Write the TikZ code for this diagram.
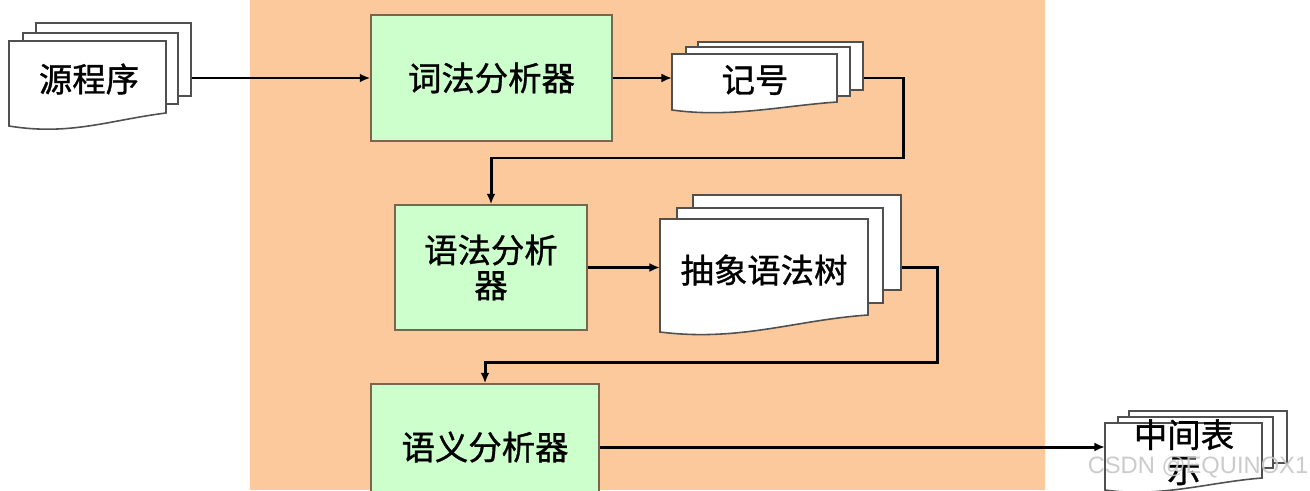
\documentclass[tikz,border=0pt]{standalone}
\usepackage{fontspec}
\newfontfamily\cjk{Noto Sans CJK SC}[FakeBold=1]
\newfontfamily\wmfont{Liberation Sans}
\usetikzlibrary{arrows.meta}
\definecolor{bgorange}{HTML}{FBC99B}
\definecolor{procgreen}{HTML}{CCFFCC}
\definecolor{boxbrd}{HTML}{7A6650}
\definecolor{docbrd}{HTML}{505050}
\tikzset{
  cjktext/.style={font=\cjk\fontsize{19}{20}\selectfont, align=center, inner sep=0pt},
  proc/.style={cjktext, draw=boxbrd, fill=procgreen, line width=0.8pt},
  page/.style={draw=docbrd, fill=white, line width=0.9pt, inner sep=0pt},
  conn/.style={line width=1.7pt, -{Latex[length=6pt,width=5pt]}},
  connl/.style={line width=1.7pt, -{Latex[length=6pt,width=5pt]}},
}
\begin{document}
\begin{tikzpicture}[x=0.02cm,y=-0.02cm]
\useasboundingbox (0,0) rectangle (1310,490);
\clip (0,0) rectangle (1310,490);
\fill[white] (0,0) rectangle (1310,490);
\fill[bgorange] (250,0) rectangle (1045,490);

% processing boxes
\node[proc, minimum width=4.82cm, minimum height=2.52cm] (lex) at (491.5,78) {词法分析器};
\node[proc, minimum width=3.84cm, minimum height=2.5cm] (syn) at (491,267.5) {语法分析\\器};
\node[proc, minimum width=4.56cm, minimum height=2.52cm] (sem) at (485,447) {语义分析器};

% source document
\node[page, minimum width=3.1cm, minimum height=1.46cm] (srcB) at (113.5,59.5) {};
\node[page, minimum width=3.1cm, minimum height=1.42cm] (srcM) at (100.5,68.5) {};
\draw[page] (9,41) -- (166,41) -- (166,113) .. controls (110,120) and (70,136) .. (9,126) -- cycle;
\node[cjktext] (srcT) at (89,79) {源程序};

% token document
\node[page, minimum width=3.3cm, minimum height=0.96cm] (tokB) at (780.5,66) {};
\node[page, minimum width=3.28cm, minimum height=0.98cm] (tokM) at (768,71.5) {};
\draw[page] (672,54) -- (837,54) -- (837,102) .. controls (780,106) and (730,118) .. (672,110) -- cycle;
\node[cjktext] (tokT) at (755,80) {记号};
\coordinate (tokFw) at (672,0);

% AST document
\node[page, minimum width=4.16cm, minimum height=1.9cm] (astB) at (797,242.5) {};
\node[page, minimum width=4.12cm, minimum height=1.9cm] (astM) at (780,255.5) {};
\draw[page] (660,219) -- (868,219) -- (868,315) .. controls (795,320) and (740,342) .. (660,332) -- cycle;
\node[cjktext] (astT) at (764,270) {抽象语法树};
\coordinate (astFw) at (660,0);

% intermediate representation document
\node[page, minimum width=3.16cm, minimum height=1.04cm] (midB) at (1208,437) {};
\node[page, minimum width=3.1cm, minimum height=1.02cm] (midM) at (1195.5,442.5) {};
\draw[page] (1105,423) -- (1262,423) -- (1262,478) .. controls (1210,482) and (1160,498) .. (1105,490) -- cycle;
\node[cjktext, anchor=north] (midT) at (1184,419) {中间表\\示};
\coordinate (midFw) at (1105,0);

% connectors
\coordinate (t1) at (903,158);
\coordinate (t2) at (937,362);
\draw[conn] (srcB.east |- lex.west) -- (lex.west);
\draw[conn] (lex.east) -- (lex.east -| tokFw);
\draw[connl] (tokB.east |- lex.east) -| (t1) -| (syn.north);
\draw[conn] (syn.east) -- (syn.east -| astFw);
\draw[connl] (astB.east |- syn.east) -| (t2) -| (sem.north);
\draw[conn] (sem.east) -- (sem.east -| midFw);

% watermark
\node[font=\wmfont\fontsize{13.5}{14}\selectfont, text=gray!45, opacity=0.9, inner sep=0pt] (wm) at (1198,467) {CSDN @EQUINOX1};
\end{tikzpicture}
\end{document}
